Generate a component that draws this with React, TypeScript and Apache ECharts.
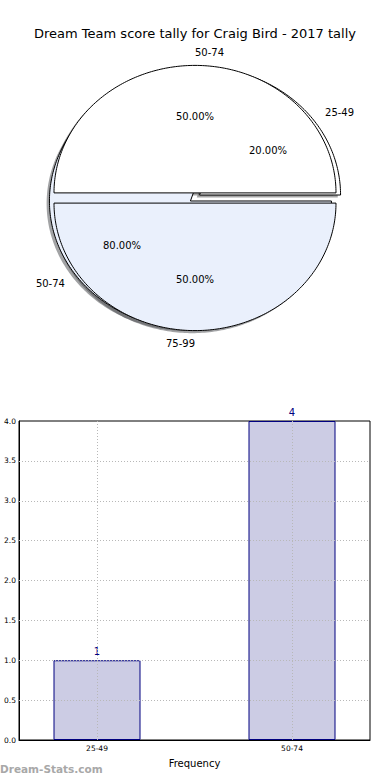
import React, { useEffect, useRef } from 'react';
import * as echarts from 'echarts';

// ---- data ----
const titleText = 'Dream Team score tally for Craig Bird - 2017 tally';
const pieALabels = ['50-74', '75-99'];
const pieAValues = [1, 1];
const pieBLabels = ['25-49', '50-74'];
const pieBValues = [1, 4];
const sliceColors = ['#ffffff', '#eaf0fc'];
const shadowColors = ['rgba(77,77,77,0.5)', 'rgba(70,72,76,0.5)'];

const barCategories = ['25-49', '50-74'];
const barValues = [1, 4];
const yMin = 0;
const yMax = 4;
const xMin = -0.4;
const xMax = 1.4;
const yGridValues = [0.5, 1, 1.5, 2, 2.5, 3, 3.5];
const xAxisName = 'Frequency';
const watermark = 'Dream-Stats.com';

// ---- layout ----
const FONT = 'DejaVu Sans';
const PIE = { cy: 198, rx: 141, ry: 127.5, explode: 0.04, shadow: 0.02 };

function sliceGeom(values: number[], idx: number, W: number) {
  const total = values.reduce((a, b) => a + b, 0);
  let start = 0;
  for (let i = 0; i < idx; i++) start += values[i];
  const t1 = (start / total) * 360;
  const t2 = ((start + values[idx]) / total) * 360;
  const mid = ((t1 + t2) / 2) * Math.PI / 180;
  const cx = W / 2 + PIE.explode * PIE.rx * Math.cos(mid);
  const cy = PIE.cy - PIE.explode * PIE.ry * Math.sin(mid);
  const pts: number[][] = [[cx, cy]];
  const steps = Math.max(2, Math.ceil(t2 - t1));
  for (let s = 0; s <= steps; s++) {
    const a = (t1 + ((t2 - t1) * s) / steps) * Math.PI / 180;
    pts.push([cx + PIE.rx * Math.cos(a), cy - PIE.ry * Math.sin(a)]);
  }
  return { pts, cx, cy, mid, frac: values[idx] / total };
}

function pieSeries(labels: string[], values: number[], kind: string, z: number) {
  return {
    type: 'custom',
    coordinateSystem: 'none',
    z,
    silent: true,
    data: values.map((v) => [v]),
    renderItem: (params: any, api: any) => {
      const W = api.getWidth();
      const i = params.dataIndex;
      const g = sliceGeom(values, i, W);
      if (kind === 'shadow') {
        const dx = -PIE.shadow * PIE.rx;
        const dy = PIE.shadow * PIE.ry;
        return {
          type: 'polygon',
          shape: { points: g.pts.map((p) => [p[0] + dx, p[1] + dy]) },
          style: { fill: shadowColors[i % shadowColors.length], stroke: 'none' },
        };
      }
      if (kind === 'wedge') {
        return {
          type: 'polygon',
          shape: { points: g.pts },
          style: { fill: sliceColors[i % sliceColors.length], stroke: '#000', lineWidth: 1 },
        };
      }
      const c = Math.cos(g.mid);
      const s = Math.sin(g.mid);
      const lx = g.cx + 1.1 * PIE.rx * c;
      const ly = g.cy - 1.1 * PIE.ry * s;
      const px = g.cx + 0.6 * PIE.rx * c;
      const py = g.cy - 0.6 * PIE.ry * s;
      const al = c > 0 ? 'left' : 'right';
      return {
        type: 'group',
        children: [
          {
            type: 'text',
            x: lx,
            y: ly,
            style: {
              text: labels[i],
              fill: '#000',
              font: `10px "${FONT}"`,
              align: al,
              verticalAlign: 'middle',
              textAlign: al,
              textVerticalAlign: 'middle',
            },
          },
          {
            type: 'text',
            x: px,
            y: py,
            style: {
              text: (g.frac * 100).toFixed(2) + '%',
              fill: '#000',
              font: `10px "${FONT}"`,
              align: 'center',
              verticalAlign: 'middle',
              textAlign: 'center',
              textVerticalAlign: 'middle',
            },
          },
        ],
      };
    },
  };
}

const gridLine = { type: [1, 2], color: '#b8b8b8', width: 1 };

export default function App() {
  const ref = useRef<HTMLDivElement>(null);
  useEffect(() => {
    if (!ref.current) return;
    const chart = echarts.init(ref.current, null, { renderer: 'svg' });
    chart.setOption({
      animation: false,
      backgroundColor: '#fff',
      textStyle: { fontFamily: FONT },
      title: {
        text: titleText,
        left: 'center',
        top: 22,
        textStyle: { fontSize: 13, fontWeight: 'normal', color: '#000', fontFamily: FONT },
      },
      graphic: [
        {
          type: 'text',
          left: 0,
          top: 763,
          style: { text: watermark, fill: '#a8a8a8', font: `bold 10.5px "${FONT}"` },
        },
      ],
      grid: {
        left: 19,
        right: 20,
        top: 421,
        bottom: 40,
        show: true,
        borderColor: '#000',
        borderWidth: 1,
        backgroundColor: 'transparent',
      },
      xAxis: {
        type: 'value',
        min: xMin,
        max: xMax,
        interval: 0.2,
        name: xAxisName,
        nameLocation: 'middle',
        nameGap: 18,
        nameTextStyle: { fontSize: 10, color: '#000', fontFamily: FONT },
        axisLine: { show: true, onZero: false, lineStyle: { color: '#000' } },
        axisTick: { show: false },
        splitLine: { show: false },
        axisLabel: {
          fontSize: 7.5,
          color: '#000',
          margin: 4,
          fontFamily: FONT,
          showMinLabel: false,
          showMaxLabel: false,
          formatter: (v: number) => {
            const k = Math.round(v);
            return Math.abs(v - k) < 1e-6 && k >= 0 && k < barCategories.length ? barCategories[k] : '';
          },
        },
      },
      yAxis: {
        type: 'value',
        min: yMin,
        max: yMax,
        interval: 0.5,
        axisLine: { show: true, onZero: false, lineStyle: { color: '#000' } },
        axisTick: { show: false },
        splitLine: { show: false },
        axisLabel: {
          fontSize: 7.5,
          color: '#000',
          margin: 3,
          fontFamily: FONT,
          formatter: (v: number) => v.toFixed(1),
        },
      },
      series: [
        pieSeries(pieBLabels, pieBValues, 'shadow', 1),
        pieSeries(pieALabels, pieAValues, 'shadow', 1),
        pieSeries(pieBLabels, pieBValues, 'wedge', 2),
        pieSeries(pieALabels, pieAValues, 'wedge', 3),
        pieSeries(pieBLabels, pieBValues, 'text', 4),
        pieSeries(pieALabels, pieAValues, 'text', 4),
        {
          type: 'bar',
          z: 2,
          data: barValues.map((v, i) => [i, v]),
          barWidth: 87,
          itemStyle: { color: '#ccccE4', borderColor: '#000080', borderWidth: 1 },
          label: {
            show: true,
            position: 'top',
            distance: 4,
            color: '#000080',
            fontSize: 10,
            fontFamily: FONT,
          },
          markLine: {
            silent: true,
            symbol: 'none',
            label: { show: false },
            lineStyle: gridLine,
            z: 5,
            data: [
              ...barCategories.map((_, i) => [{ coord: [i, yMin] }, { coord: [i, yMax] }]),
              ...yGridValues.map((v) => [{ coord: [xMin, v] }, { coord: [xMax, v] }]),
            ],
          },
        },
      ],
    });
    return () => chart.dispose();
  }, []);
  return (
    <div
      ref={ref}
      style={{ position: 'fixed', left: 0, top: 0, width: 390, height: 780 }}
    />
  );
}
